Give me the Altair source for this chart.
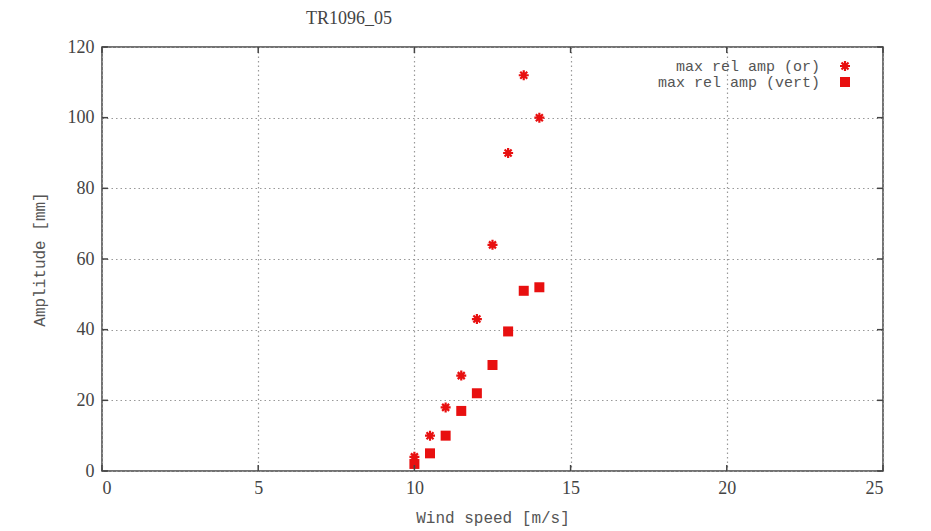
import altair as alt
import pandas as pd

wind = [10, 10.5, 11, 11.5, 12, 12.5, 13, 13.5, 14]
amp_or = [4, 10, 18, 27, 43, 64, 90, 112, 100]
amp_vert = [2, 5, 10, 17, 22, 30, 39.5, 51, 52]
series_names = ["max rel amp (or)", "max rel amp (vert)"]

x_ticks = [0, 5, 10, 15, 20, 25]
y_ticks = [0, 20, 40, 60, 80, 100, 120]

df_or = pd.DataFrame({"wind": wind, "amp": amp_or})
df_vert = pd.DataFrame({"wind": wind, "amp": amp_vert})
dx_t = pd.DataFrame({"wind": x_ticks})
dy_t = pd.DataFrame({"amp": y_ticks})

W, H = 781, 424
STAR = "M-1,0L1,0M0,-1L0,1M-0.7,-0.7L0.7,0.7M-0.7,0.7L0.7,-0.7"
RED = "#e81010"
TXT = "#444444"
SERIF = "Liberation Serif"
MONO = "Liberation Mono"

xs = alt.Scale(domain=[0, 25], nice=False)
ys = alt.Scale(domain=[0, 120], nice=False)

main_x = alt.X("wind:Q", scale=xs, title="Wind speed [m/s]",
               axis=alt.Axis(values=x_ticks, grid=True, gridDash=[1.5, 3], gridColor="#999999",
                             gridWidth=1.2, domain=False, ticks=False, labelFont=SERIF,
                             labelFontSize=18, labelColor=TXT, labelPadding=8, titleFont=MONO,
                             titleFontSize=16, titleFontWeight="normal", titleColor="#555555",
                             titlePadding=12))
main_y = alt.Y("amp:Q", scale=ys, title="Amplitude [mm]",
               axis=alt.Axis(values=y_ticks, grid=True, gridDash=[1.5, 3], gridColor="#999999",
                             gridWidth=1.2, domain=False, ticks=False, labelFont=SERIF,
                             labelFontSize=18, labelColor=TXT, labelPadding=8, titleFont=MONO,
                             titleFontSize=16, titleFontWeight="normal", titleColor="#555555",
                             titlePadding=20))

stars = alt.Chart(df_or).mark_point(shape=STAR, size=100, color=RED, strokeWidth=2.2, filled=False,
                                    opacity=1).encode(x=main_x, y=main_y)
squares = alt.Chart(df_vert).mark_point(shape="square", size=100, color=RED, filled=True,
                                        opacity=1).encode(x=main_x, y=main_y)

TK = dict(color="#444444", strokeWidth=1.5)
xt_bot = alt.Chart(dx_t).mark_rule(**TK).encode(x=main_x, y=alt.value(H), y2=alt.value(H - 6))
xt_top = alt.Chart(dx_t).mark_rule(**TK).encode(x=main_x, y=alt.value(0), y2=alt.value(6))
yt_left = alt.Chart(dy_t).mark_rule(**TK).encode(y=main_y, x=alt.value(0), x2=alt.value(6))
yt_right = alt.Chart(dy_t).mark_rule(**TK).encode(y=main_y, x=alt.value(W), x2=alt.value(W - 6))

leg = pd.DataFrame({"series": series_names})
LT = dict(align="right", baseline="middle", font=MONO, fontSize=15, color="#555555")
leg_t1 = alt.Chart(leg.iloc[[0]]).mark_text(**LT).encode(x=alt.value(718), y=alt.value(19), text="series:N")
leg_t2 = alt.Chart(leg.iloc[[1]]).mark_text(**LT).encode(x=alt.value(718), y=alt.value(35), text="series:N")
leg_star = alt.Chart(leg.iloc[[0]]).mark_point(shape=STAR, size=100, color=RED, strokeWidth=2.2,
                                               filled=False, opacity=1).encode(x=alt.value(743), y=alt.value(19))
leg_sq = alt.Chart(leg.iloc[[1]]).mark_point(shape="square", size=100, color=RED, filled=True,
                                             opacity=1).encode(x=alt.value(743), y=alt.value(35))

chart = alt.layer(
    stars, squares, xt_bot, xt_top, yt_left, yt_right, leg_t1, leg_t2, leg_star, leg_sq
).properties(
    width=W, height=H,
    autosize=alt.AutoSizeParams(type="none"),
    padding={"left": 94, "top": 39, "right": 40, "bottom": 58},
    title=alt.TitleParams("TR1096_05", anchor="start", dx=275, font=SERIF, fontSize=18,
                          fontWeight="normal", color=TXT, offset=10),
).configure_view(stroke="#444444", strokeWidth=1.5)

chart.save("out.html", embed_options={"renderer": "svg", "actions": False})
